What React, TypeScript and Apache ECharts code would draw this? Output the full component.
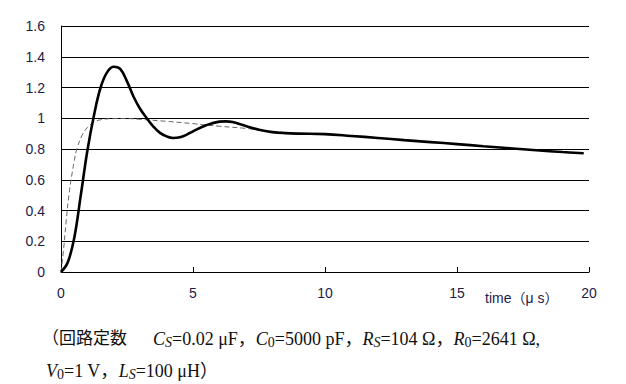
import React, { useEffect, useRef } from "react";
import * as echarts from "echarts";

const yTicks = [0, 0.2, 0.4, 0.6, 0.8, 1, 1.2, 1.4, 1.6];
const xTicks = [0, 5, 10, 15, 20];

const solidT = [0, 0.25, 0.5, 0.75, 1.0, 1.25, 1.5, 1.75, 2.0, 2.25, 2.5, 2.75, 3.0, 3.25, 3.5, 3.75, 4.0, 4.25, 4.5, 4.75, 5.0, 5.5, 6.0, 6.25, 6.5, 7.0, 7.5, 8.0, 8.5, 9.0, 10, 11, 12, 13, 14, 15, 16, 17, 18, 19, 19.8];
const solidV = [0, 0.06, 0.22, 0.5, 0.79, 1.02, 1.2, 1.3, 1.335, 1.32, 1.24, 1.14, 1.06, 1.0, 0.945, 0.905, 0.882, 0.872, 0.876, 0.892, 0.915, 0.955, 0.978, 0.98, 0.975, 0.95, 0.925, 0.91, 0.903, 0.9, 0.897, 0.885, 0.872, 0.858, 0.845, 0.832, 0.818, 0.805, 0.792, 0.78, 0.772];

const dashT = [0, 0.1, 0.2, 0.3, 0.4, 0.5, 0.6, 0.8, 1.0, 1.25, 1.5, 2.0, 2.5, 3.0, 4.0, 5.0, 5.5, 6.0, 7.0, 8.0, 9.0, 10];
const dashV = [0, 0.15, 0.34, 0.5, 0.62, 0.72, 0.8, 0.89, 0.94, 0.975, 0.99, 0.998, 0.998, 0.993, 0.98, 0.965, 0.956, 0.948, 0.934, 0.915, 0.902, 0.897];

const xAxisTitle = "time（μ s）";
const captionLine1 =
  "{p|（回路定数　}{n|  }{i|C}{si|S}{n|=0.02 μF，}{i|C}{s|0}{n|=5000 pF，}{i|R}{si|S}{n|=104 Ω，}{i|R}{s|0}{n|=2641 Ω,}";
const captionLine2 = "{i|V}{s|0}{n|=1 V，}{i|L}{si|S}{n|=100 μH）}";

const labelColor = "#1c1c48";
const serif = "'Liberation Serif', 'Noto Sans CJK JP', serif";

const rich = {
  p: { fontFamily: serif, fontSize: 17, lineHeight: 22, fill: "#111" },
  n: { fontFamily: serif, fontSize: 18, lineHeight: 22, fill: "#111" },
  i: { fontFamily: serif, fontSize: 18, fontStyle: "italic", lineHeight: 22, fill: "#111" },
  s: { fontFamily: serif, fontSize: 14, lineHeight: 10, verticalAlign: "bottom", fill: "#111" },
  si: { fontFamily: serif, fontSize: 14, fontStyle: "italic", lineHeight: 10, verticalAlign: "bottom", fill: "#111" },
};

export default function App() {
  const ref = useRef<HTMLDivElement>(null);
  useEffect(() => {
    if (!ref.current) return;
    const chart = echarts.init(ref.current, null, { renderer: "svg" });
    chart.setOption({
      animation: false,
      backgroundColor: "#fff",
      grid: { left: 61, right: 37, top: 26, bottom: 112 },
      xAxis: {
        type: "value",
        min: xTicks[0],
        max: xTicks[xTicks.length - 1],
        interval: 5,
        axisLine: { show: true, lineStyle: { color: "#000", width: 1 } },
        axisTick: { show: true, inside: true, length: 5, lineStyle: { color: "#000" } },
        splitLine: { show: false },
        axisLabel: {
          color: labelColor,
          fontSize: 14,
          fontFamily: "'Liberation Sans', Arial, sans-serif",
          margin: 14,
        },
      },
      yAxis: {
        type: "value",
        min: yTicks[0],
        max: yTicks[yTicks.length - 1],
        interval: 0.2,
        axisLine: { show: true, lineStyle: { color: "#000", width: 1 } },
        axisTick: { show: false },
        splitLine: { show: true, lineStyle: { color: "#000", width: 1 } },
        axisLabel: {
          color: labelColor,
          fontSize: 14,
          fontFamily: "'Liberation Sans', Arial, sans-serif",
          margin: 16,
          formatter: (v: number) => String(+v.toFixed(1)),
        },
      },
      series: [
        {
          type: "line",
          data: dashT.map((t, i) => [t, dashV[i]]),
          showSymbol: false,
          smooth: 0.4,
          lineStyle: { color: "#666", width: 1, type: [5, 3] },
          z: 2,
        },
        {
          type: "line",
          data: solidT.map((t, i) => [t, solidV[i]]),
          showSymbol: false,
          smooth: 0.4,
          lineStyle: { color: "#000", width: 2.6 },
          z: 3,
        },
      ],
      graphic: [
        {
          type: "text",
          left: 485,
          top: 291,
          style: {
            text: xAxisTitle,
            fontSize: 14,
            fontFamily: "'Liberation Sans', 'Noto Sans CJK JP', sans-serif",
            fill: labelColor,
          },
        },
        {
          type: "text",
          left: 42,
          top: 330,
          style: { text: captionLine1, rich },
        },
        {
          type: "text",
          left: 46,
          top: 362,
          style: { text: captionLine2, rich },
        },
      ],
    });
    return () => chart.dispose();
  }, []);
  return <div ref={ref} style={{ width: 626, height: 384, position: "fixed", left: 0, top: 0 }} />;
}
